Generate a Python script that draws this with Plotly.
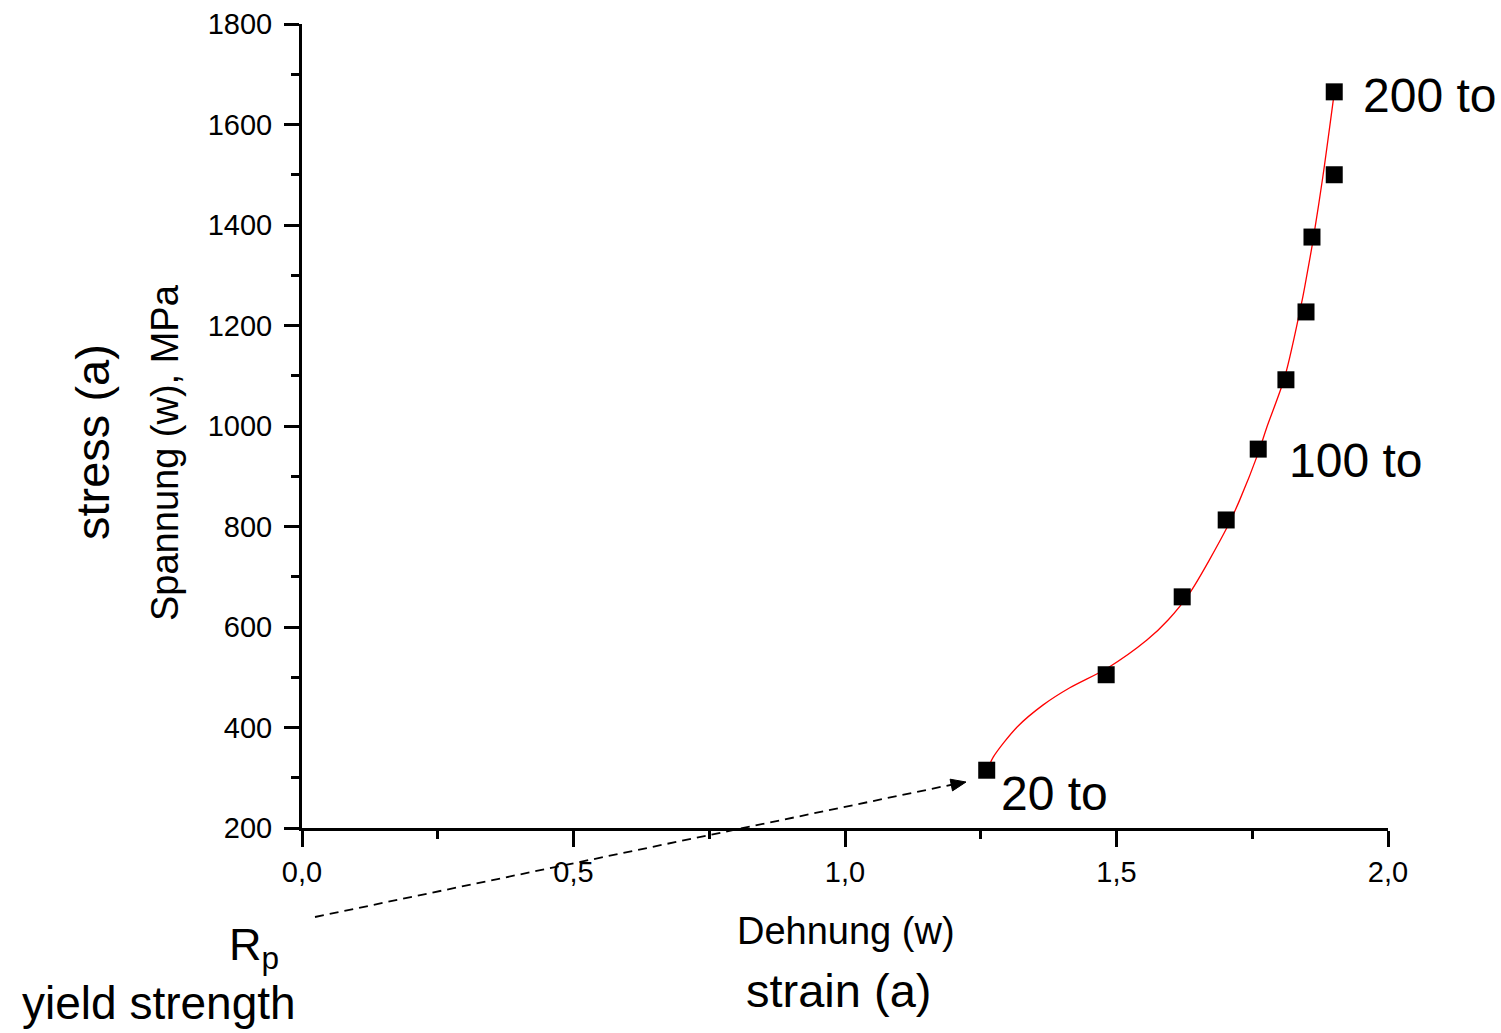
import plotly.graph_objects as go

# Measured stress-strain points (strain in %, stress in MPa)
strain = [1.261, 1.481, 1.621, 1.702, 1.761, 1.812, 1.849, 1.860, 1.901, 1.901]
stress = [315, 505, 660, 813, 954, 1092, 1227, 1376, 1500, 1665]

# Smoothed fit curve through the measurements
fit_strain = [1.261, 1.273, 1.317, 1.365, 1.414, 1.483, 1.556, 1.595, 1.635,
              1.704, 1.727, 1.761, 1.777, 1.810, 1.842, 1.849, 1.862, 1.880, 1.901]
fit_stress = [312, 341, 401, 445, 479, 518, 574, 614, 668,
              799, 853, 946, 998, 1098, 1251, 1291, 1370, 1496, 1663]

# Point labels: (strain, stress, text, x shift, y shift)
point_labels = [
    (1.901, 1665, "200 to", 27, -4),
    (1.761, 954, "100 to", 29, -11),
    (1.261, 315, "20 to", 12, -23),
]

FONT = "Liberation Sans, Arial, Helvetica, sans-serif"

# plot-area geometry in page pixels
L, T, W, H = 302, 24, 1086, 804


def px(x):
    return (x - L) / W


def py(y):
    return (T + H - y) / H


fig = go.Figure()

fig.add_trace(go.Scatter(
    x=fit_strain, y=fit_stress, mode="lines",
    line=dict(color="#ff0000", width=1.3, shape="spline", smoothing=0.8),
    hoverinfo="skip", showlegend=False,
))

fig.add_trace(go.Scatter(
    x=strain, y=stress, mode="markers",
    marker=dict(symbol="square", size=17, color="black"),
    showlegend=False, cliponaxis=False,
))

annotations = []
for x, y, text, xs, ys in point_labels:
    annotations.append(dict(
        x=x, y=y, xref="x", yref="y", text=text, showarrow=False,
        xanchor="left", yanchor="middle", xshift=xs, yshift=ys,
        font=dict(family=FONT, size=48, color="black"),
    ))

# axis titles (bilingual)
annotations += [
    dict(x=px(846), y=py(931), xref="paper", yref="paper", text="Dehnung (w)",
         showarrow=False, xanchor="center", yanchor="middle",
         font=dict(family=FONT, size=38, color="black")),
    dict(x=px(838), y=py(990), xref="paper", yref="paper", text="strain (a)",
         showarrow=False, xanchor="center", yanchor="middle",
         font=dict(family=FONT, size=47, color="black")),
    dict(x=px(165), y=py(453), xref="paper", yref="paper", text="Spannung (w), MPa",
         showarrow=False, xanchor="center", yanchor="middle", textangle=-90,
         font=dict(family=FONT, size=38, color="black")),
    dict(x=px(92), y=py(442), xref="paper", yref="paper", text="stress (a)",
         showarrow=False, xanchor="center", yanchor="middle", textangle=-90,
         font=dict(family=FONT, size=47, color="black")),
    dict(x=px(254), y=py(947), xref="paper", yref="paper", text="R<sub>p</sub>",
         showarrow=False, xanchor="center", yanchor="middle",
         font=dict(family=FONT, size=45, color="black")),
    dict(x=px(159), y=py(1003), xref="paper", yref="paper", text="yield strength",
         showarrow=False, xanchor="center", yanchor="middle",
         font=dict(family=FONT, size=46, color="black")),
]

# dashed pointer from the yield-strength label to the first point, with a filled head
tip = (966, 782)
base_l = (952.5, 790.9)
base_r = (950.1, 779.2)
head_path = "M {} {} L {} {} L {} {} Z".format(
    px(tip[0]), py(tip[1]), px(base_l[0]), py(base_l[1]), px(base_r[0]), py(base_r[1]))

shapes = [
    dict(type="line", xref="paper", yref="paper",
         x0=px(315), y0=py(917), x1=px(955), y1=py(784),
         line=dict(color="black", width=1.8, dash="9px,6px")),
    dict(type="path", xref="paper", yref="paper", path=head_path,
         fillcolor="black", line=dict(color="black", width=1)),
]

tickfont = dict(family=FONT, size=29, color="black")

fig.update_layout(
    width=1501, height=1033,
    margin=dict(l=L, r=1501 - L - W, t=T, b=1033 - T - H, pad=0, autoexpand=False),
    paper_bgcolor="white", plot_bgcolor="white",
    separators=",.",
    annotations=annotations,
    shapes=shapes,
    xaxis=dict(
        range=[0, 2], dtick=0.5, tick0=0, tickformat=".1f",
        automargin=False,
        showgrid=False, zeroline=False,
        showline=True, linecolor="black", linewidth=3,
        ticks="outside", ticklen=16, tickwidth=3, tickcolor="black",
        ticklabelstandoff=0,
        minor=dict(dtick=0.25, ticks="outside", ticklen=8, tickwidth=3,
                   tickcolor="black", showgrid=False),
        tickfont=tickfont,
    ),
    yaxis=dict(
        range=[200, 1800], dtick=200, tick0=200, tickformat="d",
        automargin=False,
        showgrid=False, zeroline=False,
        showline=True, linecolor="black", linewidth=3,
        ticks="outside", ticklen=15, tickwidth=3, tickcolor="black",
        ticklabelstandoff=6,
        minor=dict(dtick=100, ticks="outside", ticklen=8, tickwidth=3,
                   tickcolor="black", showgrid=False),
        tickfont=tickfont,
    ),
)

fig.write_html("out.html")
